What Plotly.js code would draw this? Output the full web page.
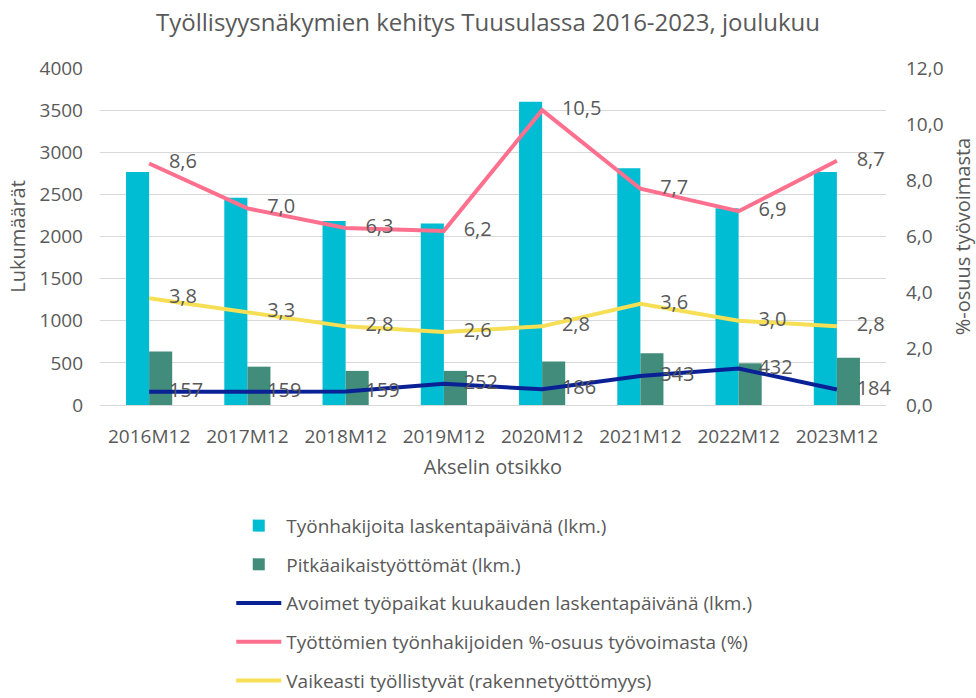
<!DOCTYPE html>
<html><head><meta charset="utf-8">
<script src="https://cdn.plot.ly/plotly-3.0.1.min.js"></script>
<style>html,body{margin:0;padding:0;background:#fff;}#chart{width:976px;height:698px;}</style>
</head><body><div id="chart"></div>
<script>
const categories = ["2016M12","2017M12","2018M12","2019M12","2020M12","2021M12","2022M12","2023M12"];
const tyonhakijoita = [2765, 2460, 2185, 2155, 3600, 2810, 2335, 2765];
const pitkaaikais = [635, 455, 405, 405, 515, 615, 495, 560];
const avoimet = [157, 159, 159, 252, 186, 343, 432, 184];
const tyottomienOsuus = [8.6, 7.0, 6.3, 6.2, 10.5, 7.7, 6.9, 8.7];
const vaikeasti = [3.8, 3.3, 2.8, 2.6, 2.8, 3.6, 3.0, 2.8];
const seriesNames = [
  "Työnhakijoita laskentapäivänä (lkm.)",
  "Pitkäaikaistyöttömät (lkm.)",
  "Avoimet työpaikat kuukauden laskentapäivänä (lkm.)",
  "Työttömien työnhakijoiden %-osuus työvoimasta (%)",
  "Vaikeasti työllistyvät (rakennetyöttömyys)"
];

const FONT = "Open Sans, sans-serif";
const GREY = "#595959";
const labelFont = {family: FONT, size: 20, color: GREY};
const tickFont = {family: FONT, size: 19, color: GREY};
const axTitleFont = {family: FONT, size: 20, color: GREY};

const traces = [
  {type:"bar", x:categories, y:tyonhakijoita, name:seriesNames[0], marker:{color:"#00BDD3"}, legendgroup:"a"},
  {type:"bar", x:categories, y:pitkaaikais, name:seriesNames[1], marker:{color:"#418C7B"}, legendgroup:"b"},
  {type:"scatter", mode:"lines+markers+text", x:categories, y:avoimet, name:seriesNames[2], cliponaxis:false,
   line:{color:"#0A2196", width:4}, marker:{size:30, color:"rgba(0,0,0,0)"},
   texttemplate:"%{y}", textposition:"middle right", textfont:labelFont, legendgroup:"c"},
  {type:"scatter", mode:"lines+markers+text", x:categories, y:tyottomienOsuus, name:seriesNames[3], yaxis:"y2", cliponaxis:false,
   line:{color:"#FF6F8E", width:4}, marker:{size:30, color:"rgba(0,0,0,0)"},
   texttemplate:"%{y:.1f}", textposition:"middle right", textfont:labelFont, legendgroup:"d"},
  {type:"scatter", mode:"lines+markers+text", x:categories, y:vaikeasti, name:seriesNames[4], yaxis:"y2", cliponaxis:false,
   line:{color:"#F6DF55", width:4}, marker:{size:30, color:"rgba(0,0,0,0)"},
   texttemplate:"%{y:.1f}", textposition:"middle right", textfont:labelFont, legendgroup:"e"}
];

const layout = {
  width:976, height:698,
  margin:{l:100, r:90, t:68, b:293, autoexpand:false},
  paper_bgcolor:"#fff", plot_bgcolor:"#fff",
  separators:", ",
  font:{family:FONT, color:GREY, size:19},
  title:{text:"Työllisyysnäkymien kehitys Tuusulassa 2016-2023, joulukuu", font:{family:FONT, size:24, color:GREY}, x:0.5, xanchor:"center", y:0.968, yanchor:"middle"},
  barmode:"group", bargap:0.53, bargroupgap:0,
  xaxis:{type:"category", range:[-0.5, 7.5], autorange:false, automargin:false, showgrid:false, showline:false, zeroline:false, ticks:"",
    ticklabelstandoff:18, tickfont:tickFont,
    title:{text:"Akselin otsikko", font:axTitleFont, standoff:11}},
  yaxis:{range:[0,4000], dtick:500, tickformat:"d", automargin:false, showgrid:true, gridcolor:"#D9D9D9", gridwidth:1,
    zeroline:true, zerolinecolor:"#D9D9D9", showline:false, ticks:"", ticklabelstandoff:16,
    tickfont:tickFont,
    title:{text:"Lukumäärät", font:axTitleFont, standoff:8}},
  yaxis2:{range:[0,12], dtick:2, tickformat:".1f", overlaying:"y", side:"right", automargin:false, showgrid:false, zeroline:false,
    showline:false, ticks:"", ticklabelstandoff:19, tickfont:tickFont,
    title:{text:"%-osuus työvoimasta", font:axTitleFont, standoff:13}},
  showlegend:true,
  legend:{orientation:"v", x:0.167, xanchor:"left", y:-0.302, yanchor:"top", traceorder:"grouped",
    tracegroupgap:11, itemwidth:45, font:{family:FONT, size:19, color:GREY}, bgcolor:"rgba(0,0,0,0)"}
};

Plotly.newPlot("chart", traces, layout, {displayModeBar:false, staticPlot:true});
</script>
</body></html>
